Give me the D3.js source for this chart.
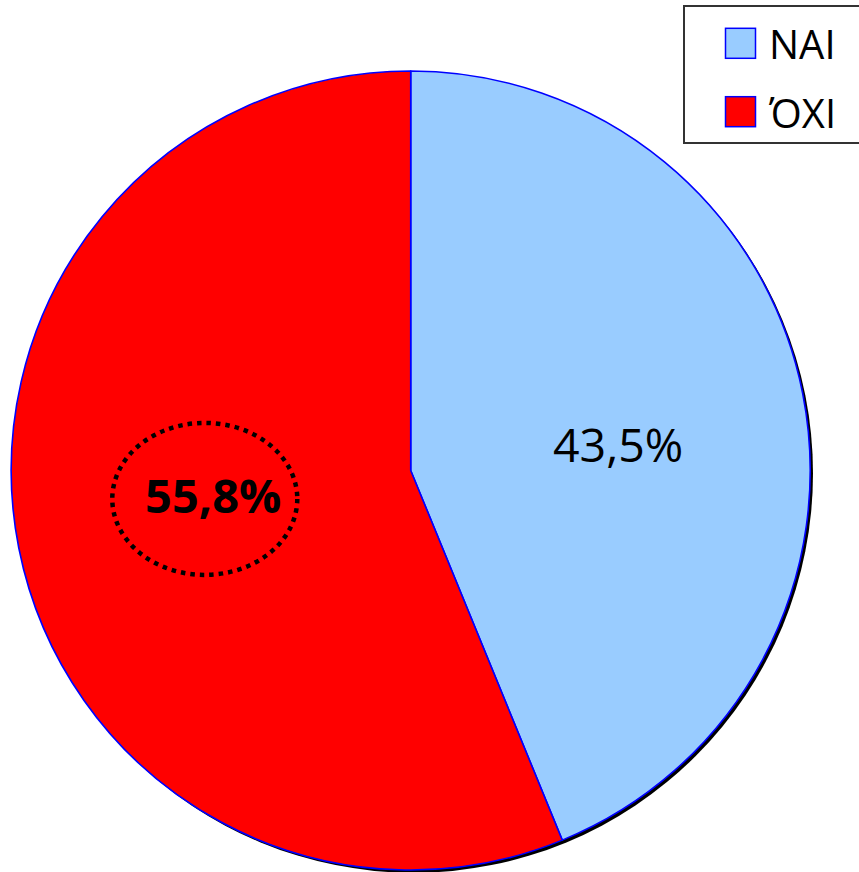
<!DOCTYPE html>
<html>
<head>
<meta charset="utf-8">
<script src="https://cdn.jsdelivr.net/npm/d3@7"></script>
<style>
  html, body { margin: 0; padding: 0; background: #fff; }
  svg { display: block; }
</style>
</head>
<body>
<svg id="chart" width="859" height="872"></svg>
<script>
const categories = ["NAI", "ΌΧΙ"];
const values = [43.5, 55.8];
const valueLabels = ["43,5%", "55,8%"];
const colors = ["#99CCFF", "#FF0000"];
const highlighted = [false, true];

const cx = 410.7, cy = 470.5, R = 399.5;
const font = "'Open Sans', 'Noto Sans', sans-serif";
const labelRadius = 204;
const labelAngleShift = 4 * Math.PI / 180;

const svg = d3.select("#chart");
const g = svg.append("g").attr("transform", `translate(${cx},${cy})`);

// shadow
g.append("circle")
  .attr("cx", 2.8).attr("cy", 2.8).attr("r", R)
  .attr("fill", "#000");

const pie = d3.pie().sort(null).value(d => d.v).startAngle(0).endAngle(2 * Math.PI);
const data = categories.map((c, i) => ({ c, v: values[i], label: valueLabels[i], color: colors[i], hi: highlighted[i] }));
const arcs = pie(data);

const arc = d3.arc().innerRadius(0).outerRadius(R);

g.selectAll("path.slice")
  .data(arcs)
  .join("path")
  .attr("class", "slice")
  .attr("d", arc)
  .attr("fill", d => d.data.color)
  .attr("stroke", "#0000FF")
  .attr("stroke-width", 1.6)
  .attr("stroke-linejoin", "round");

const labels = g.selectAll("g.lbl")
  .data(arcs)
  .join("g")
  .attr("class", "lbl")
  .attr("transform", d => {
    const mid = (d.startAngle + d.endAngle) / 2 + labelAngleShift;
    const [x, y] = d3.pointRadial(mid, labelRadius);
    return `translate(${x + 5},${y})`;
  });

labels.filter(d => d.data.hi)
  .append("ellipse")
  .attr("cx", -8.5).attr("cy", 3)
  .attr("rx", 92.5).attr("ry", 76)
  .attr("fill", "none")
  .attr("stroke", "#000")
  .attr("stroke-width", 4.5)
  .attr("stroke-dasharray", "4.5 5");

labels.append("text")
  .attr("text-anchor", "middle")
  .attr("dy", "0.36em")
  .attr("font-family", font)
  .attr("font-size", d => d.data.hi ? 47 : 46.5)
  .attr("font-weight", d => d.data.hi ? 700 : 400)
  .attr("fill", "#000")
  .text(d => d.data.label);

// legend
const legend = svg.append("g");
legend.append("rect")
  .attr("x", 684).attr("y", 6)
  .attr("width", 200).attr("height", 137)
  .attr("fill", "#fff")
  .attr("stroke", "#333")
  .attr("stroke-width", 2);

const ly = d3.scalePoint().domain(categories).range([43.3, 111.7]);

const items = legend.selectAll("g.item")
  .data(data)
  .join("g")
  .attr("class", "item")
  .attr("transform", d => `translate(0,${ly(d.c)})`);

items.append("rect")
  .attr("x", 725.5).attr("y", -15)
  .attr("width", 30).attr("height", 30)
  .attr("fill", d => d.color)
  .attr("stroke", "#0000FF")
  .attr("stroke-width", 1.5);

items.append("text")
  .attr("x", 769)
  .attr("y", 16)
  .attr("font-family", font)
  .attr("font-size", 40)
  .attr("fill", "#000")
  .text(d => d.c);
</script>
</body>
</html>
